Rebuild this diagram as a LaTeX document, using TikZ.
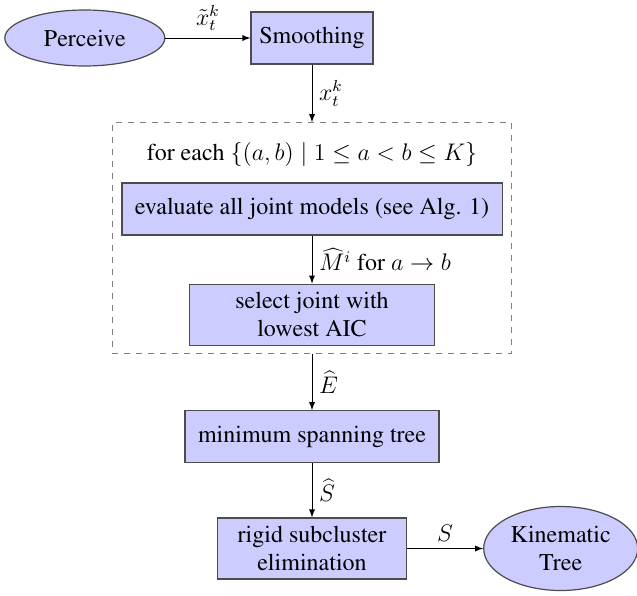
\documentclass[tikz,border=0pt]{standalone}
\usepackage[T1]{fontenc}
\usepackage{times}
\usetikzlibrary{arrows}
\usetikzlibrary{positioning}
\usetikzlibrary{fit}
\usetikzlibrary{shapes.geometric}

\begin{document}
\begin{tikzpicture}[x=0.5pt, y=-0.5pt, >=latex, text=black,
  font=\rmfamily\fontsize{12}{14}\selectfont,
  block/.style={rectangle, semithick, draw=black!70, fill=blue!20, minimum height=26pt, inner xsep=6.5pt, inner ysep=4pt, align=center},
  tallblock/.style={block, minimum height=30.5pt},
  blob/.style={ellipse, semithick, draw=black!70, fill=blue!20, inner sep=1pt, align=center},
  loopframe/.style={draw=black!50, dashed, inner xsep=4.5pt, inner ysep=4pt}]

  \useasboundingbox (0,0) rectangle (637,595);

  \node[block, inner xsep=3pt, minimum width=61pt] (smooth) at (312,38) {Smoothing};
  \node[blob, minimum width=80pt, minimum height=28pt, left=42.5pt of smooth] (perceive) {Perceive};

  \node[inner ysep=5.5pt, below=33pt of smooth] (foreach) {for each $\{(a,b) \mid 1 \le a < b \le K\}$};
  \node[block, below=2.5pt of foreach] (eval) {evaluate all joint models (see Alg. 1)};
  \node[tallblock, minimum width=122.5pt, below=24pt of eval] (select) {select joint with\\lowest AIC};
  \node[loopframe, fit=(foreach) (eval) (select)] (frame) {};

  \node[block, below=28pt of frame] (mst) {minimum spanning tree};
  \node[tallblock, minimum width=94.5pt, below=27pt of mst] (rigid) {rigid subcluster\\elimination};
  \node[blob, minimum width=77pt, minimum height=42pt, right=38pt of rigid] (kin) {Kinematic\\Tree};

  \draw[->] (perceive) -- node[above] {$\tilde{x}_t^k$} (smooth);
  \draw[->] (smooth) -- node[right] {$x_t^k$} (smooth |- frame.north);
  \draw[->] (eval) -- node[right] {$\widehat{M}^i$ for $a \to b$} (select);
  \draw[->] (frame.south -| mst) -- node[right] {$\widehat{E}$} (mst);
  \draw[->] (mst) -- node[right] {$\widehat{S}$} (rigid);
  \draw[->] (rigid) -- node[above] {$S$} (kin);
\end{tikzpicture}
\end{document}
